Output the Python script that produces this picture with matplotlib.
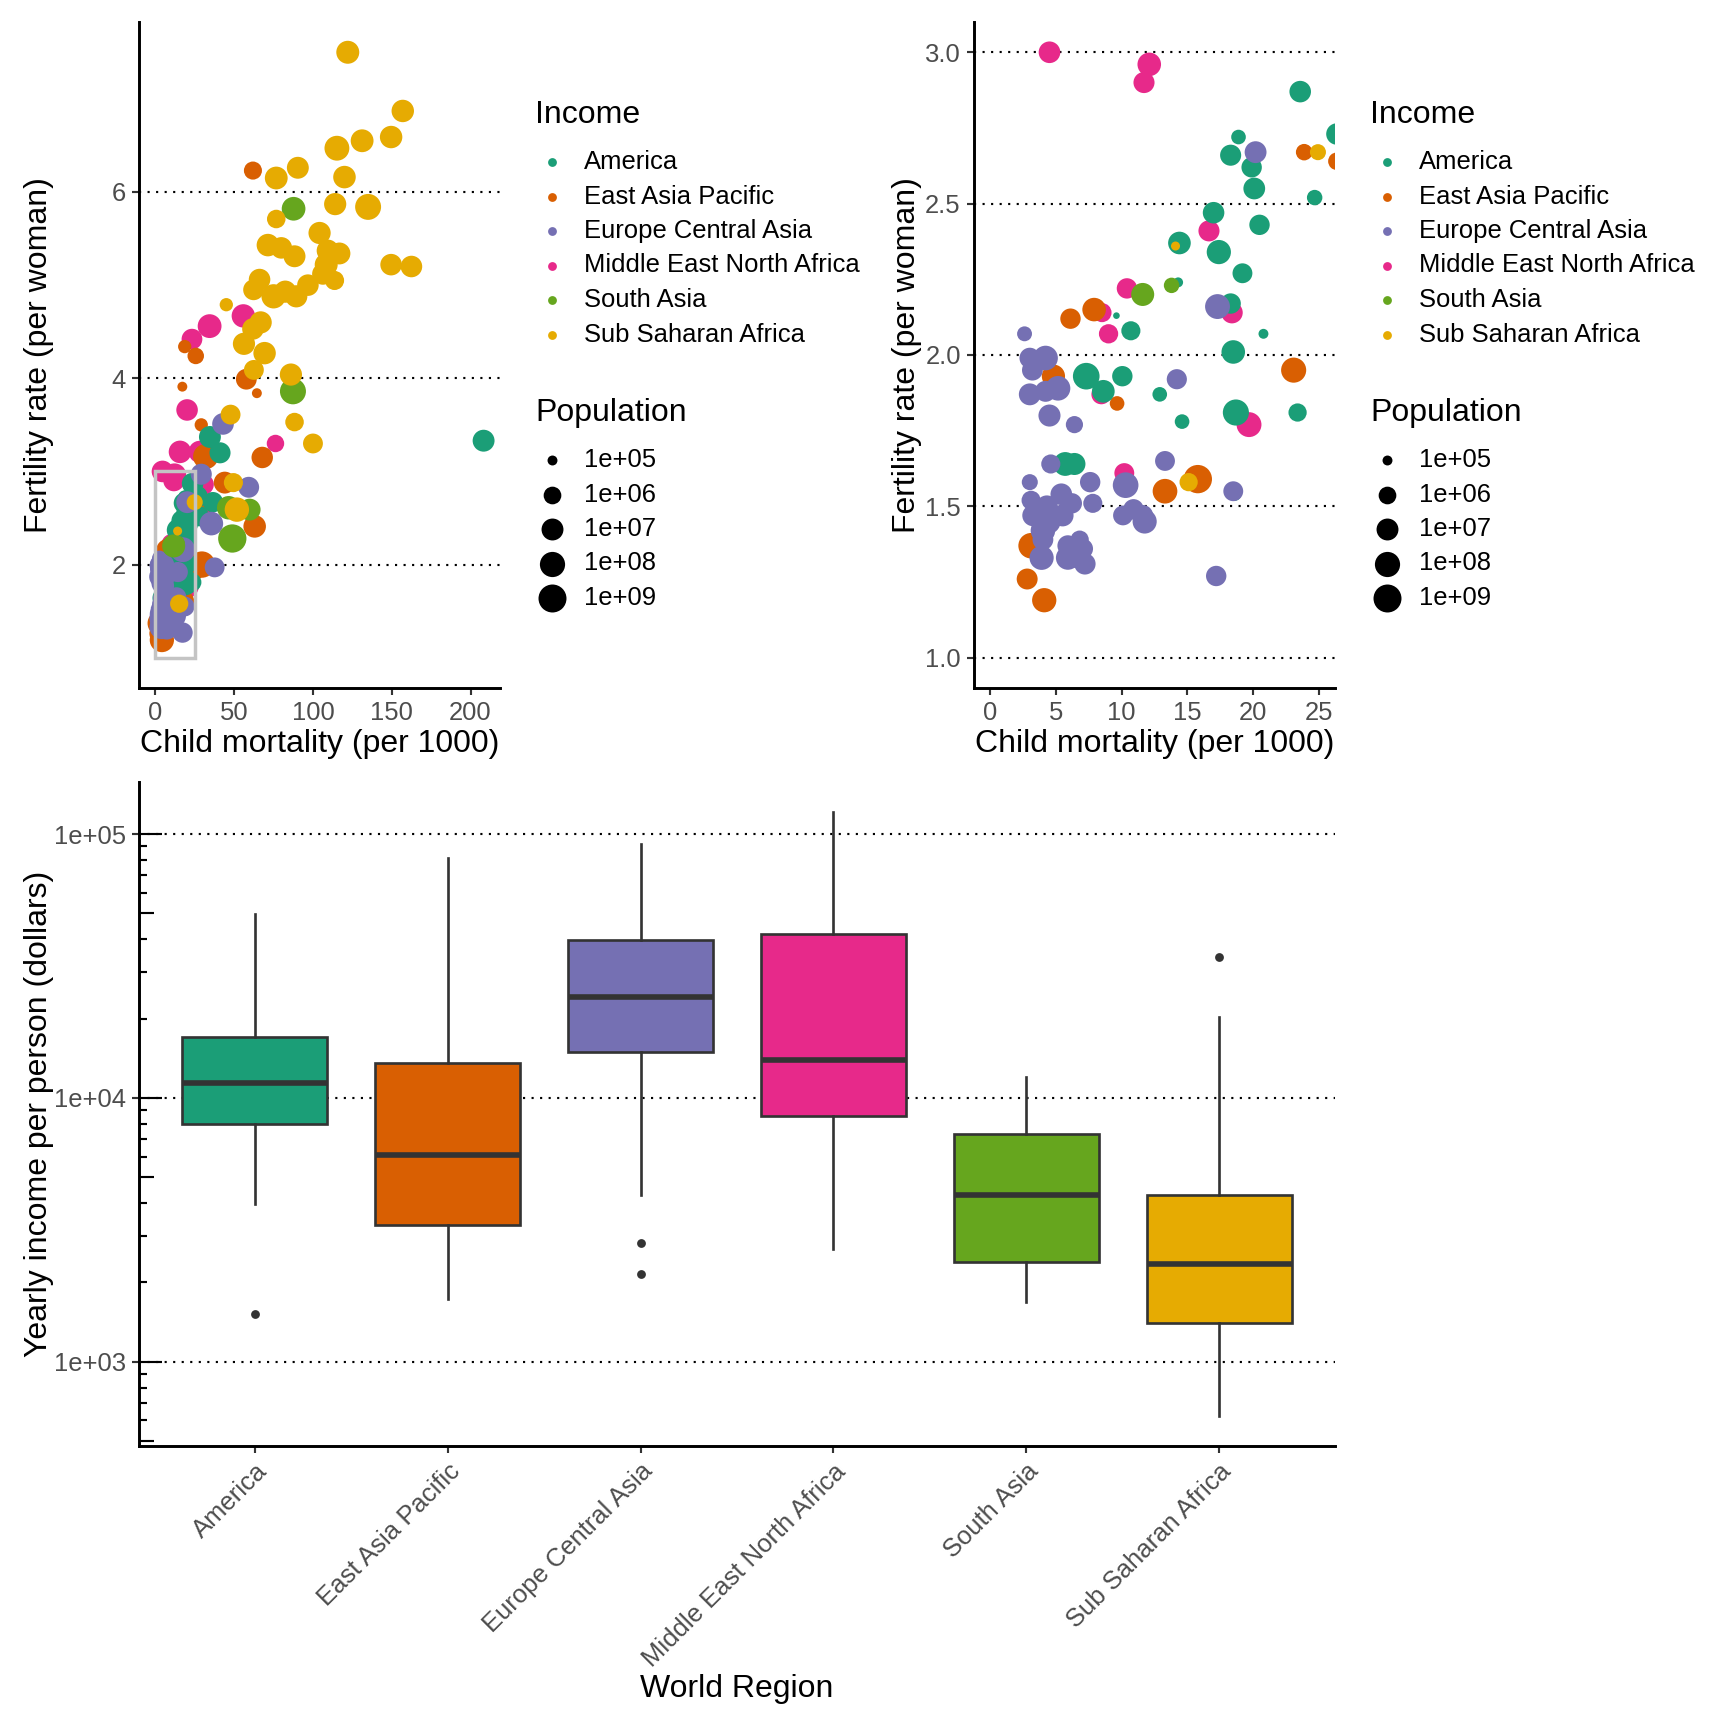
import numpy as np
import matplotlib
matplotlib.use("Agg")
import matplotlib.pyplot as plt
import matplotlib.transforms as mtransforms
from matplotlib.patches import Rectangle
from matplotlib.ticker import NullLocator

plt.rcParams['font.family'] = ['Liberation Sans', 'DejaVu Sans']

regions = ["America", "East Asia Pacific", "Europe Central Asia",
           "Middle East North Africa", "South Asia", "Sub Saharan Africa"]
region_colors = ["#1B9E77", "#D95F02", "#7570B3", "#E7298A", "#66A61E", "#E6AB02"]

# child mortality (per 1000), fertility (per woman), population (millions)
america_mort = [23.6, 18.9, 26.4, 18.3, 19.9, 20.1, 24.7, 17.0, 20.5, 14.4, 17.4, 19.2, 14.3, 18.3,
                9.6, 20.8, 10.7, 18.5, 7.3, 10.05, 8.6, 12.9, 14.6, 18.7, 23.4, 5.7, 6.4, 18.6,
                208.3, 34.6, 41.0, 36.5, 27.5]
america_fert = [2.87, 2.72, 2.73, 2.66, 2.62, 2.55, 2.52, 2.47, 2.43, 2.37, 2.34, 2.27, 2.24, 2.17,
                2.13, 2.07, 2.08, 2.01, 1.93, 1.93, 1.88, 1.87, 1.78, 1.81, 1.81, 1.64, 1.64, 1.54,
                3.33, 3.37, 3.20, 2.67, 2.52]
america_pop = [8, 0.3, 8, 6, 4, 9, 0.4, 8, 4, 16, 48, 3, 0.1, 4,
               0.08, 0.1, 2, 30, 320, 4, 17, 0.3, 0.3, 205, 1.3, 36, 11, 0.2,
               10, 10, 6, 4, 4]

eap_mort = [23.9, 26.4, 7.9, 6.1, 23.1, 4.8, 9.65, 15.8, 13.3, 3.1, 2.8, 4.1,
            61.9, 18.6, 25.6, 57.7, 17.1, 64.4, 29.1, 31.9, 67.8, 44.0, 63.0, 29.5]
eap_fert = [2.67, 2.64, 2.15, 2.12, 1.95, 1.93, 1.84, 1.59, 1.55, 1.37, 1.26, 1.19,
            6.23, 4.34, 4.24, 3.99, 3.91, 3.84, 3.50, 3.16, 3.15, 2.88, 2.41, 2.00]
eap_pop = [0.6, 1, 30, 4, 93, 24, 0.3, 1380, 68, 127, 5.5, 50,
           1.2, 0.2, 0.6, 5, 0.1, 0.1, 0.2, 100, 7.5, 10, 15, 255]

eca_mort = [20.2, 17.3, 2.6, 3.0, 4.2, 3.2, 14.2, 3.0, 4.2, 5.15, 4.5, 6.4, 4.6, 13.3, 10.3,
            3.0, 7.6, 18.5, 3.1, 4.3, 5.4, 6.2, 5.5, 3.25, 4.4, 4.0, 7.8, 10.1, 10.9, 11.6,
            11.75, 4.0, 3.9, 5.9, 6.8, 7.05, 5.9, 7.2, 6.55, 17.2,
            42.9, 29.1, 59.2, 35.5, 37.6]
eca_fert = [2.67, 2.16, 2.07, 1.99, 1.99, 1.95, 1.92, 1.87, 1.88, 1.89, 1.80, 1.77, 1.64, 1.65, 1.57,
            1.58, 1.58, 1.55, 1.52, 1.50, 1.54, 1.51, 1.47, 1.47, 1.45, 1.42, 1.51, 1.47, 1.49, 1.47,
            1.45, 1.39, 1.33, 1.37, 1.39, 1.36, 1.33, 1.31, 1.33, 1.27,
            3.51, 2.97, 2.83, 2.44, 1.97]
eca_pop = [9.7, 78, 0.33, 4.6, 66, 5.2, 3.5, 9.8, 5.6, 65, 11, 0.8, 2, 3, 144,
           0.5, 4, 3, 2, 10, 8.5, 4, 10, 8, 81, 60, 2, 2.9, 4.4, 5.4,
           45, 5, 46, 5.4, 1.3, 3.5, 38, 7, 4.2, 4,
           8.5, 6, 5.4, 31, 3]

mena_mort = [4.5, 12.1, 11.7, 16.65, 10.4, 8.5, 18.4, 9.0, 8.45, 19.7, 10.2,
             55.8, 34.4, 23.2, 20.1, 76.2, 15.6, 28.1, 30.5, 32.5]
mena_fert = [3.00, 2.96, 2.90, 2.41, 2.22, 2.14, 2.14, 2.07, 1.87, 1.77, 1.61,
             4.67, 4.56, 4.42, 3.66, 3.30, 3.21, 3.21, 2.86, 2.62]
mena_pop = [8.4, 30, 6, 6, 4, 2, 8, 2.2, 3, 79, 3,
            26, 36, 5, 8, 0.9, 15, 12, 5, 2]

sa_mort = [13.8, 11.6, 87.7, 87.3, 46.5, 59.8, 48.8]
sa_fert = [2.23, 2.20, 5.82, 3.86, 2.61, 2.59, 2.28]
sa_pop = [0.4, 21, 33, 189, 28, 10, 1310]

ssa_mort = [122.1, 157.0, 131.2, 149.6, 115.2, 76.7, 90.4, 120.0, 114.1, 135.0, 76.7, 104.2,
            71.4, 79.9, 88.3, 109.4, 116.8, 108.4, 106.3, 113.7, 149.6, 162.5, 66.1, 62.3,
            75.0, 82.4, 89.4, 96.8, 45.0, 66.8, 61.9, 56.2, 69.3, 62.5, 86.0, 47.7, 88.3,
            100.0, 49.5, 51.7, 14.1, 24.95, 15.1]
ssa_fert = [7.50, 6.87, 6.55, 6.59, 6.47, 6.15, 6.26, 6.16, 5.87, 5.84, 5.71, 5.56,
            5.43, 5.40, 5.31, 5.37, 5.34, 5.22, 5.12, 5.05, 5.22, 5.20, 5.06, 4.95,
            4.88, 4.93, 4.88, 5.00, 4.79, 4.60, 4.53, 4.37, 4.27, 4.09, 4.04, 3.61, 3.53,
            3.30, 2.88, 2.59, 2.36, 2.67, 1.58]
ssa_pop = [20, 14, 18, 14, 77, 18, 10, 15, 12, 180, 1.5, 12,
           15, 8, 10, 12, 10, 20, 8, 2, 8, 8, 8, 5,
           50, 12, 12, 8, 0.2, 12, 8, 12, 14, 3, 12, 3, 1.5,
           3, 2, 55, 0.09, 0.5, 1.3]

# yearly income per person (dollars), boxplot statistics per region
income_low = [3980, 1730, 4300, 2680, 1690, 625]
income_q1 = [8000, 3290, 15000, 8580, 2390, 1410]
income_median = [11400, 6070, 24200, 13900, 4300, 2350]
income_q3 = [17000, 13600, 39800, 41800, 7290, 4300]
income_high = [49600, 81000, 91700, 121000, 12000, 20300]
income_outliers = [[1520], [], [2820, 2150], [], [], [34200]]

pop_breaks = [0.1, 1, 10, 100, 1000]
pop_break_labels = ["1e+05", "1e+06", "1e+07", "1e+08", "1e+09"]

DPI = 192
W = H = 1728

series = {
    "America": (america_mort, america_fert, america_pop),
    "East Asia Pacific": (eap_mort, eap_fert, eap_pop),
    "Europe Central Asia": (eca_mort, eca_fert, eca_pop),
    "Middle East North Africa": (mena_mort, mena_fert, mena_pop),
    "South Asia": (sa_mort, sa_fert, sa_pop),
    "Sub Saharan Africa": (ssa_mort, ssa_fert, ssa_pop),
}
draw_order = ["Middle East North Africa", "East Asia Pacific", "America",
              "Europe Central Asia", "South Asia", "Sub Saharan Africa"]

all_pop = np.concatenate([np.array(v[2]) for v in series.values()])
lp_min, lp_max = np.log10(all_pop.min()), np.log10(all_pop.max())


def marker_area(pop):
    # ggplot area scale on log10 population, range 1..6
    t = (np.log10(np.asarray(pop, dtype=float)) - lp_min) / (lp_max - lp_min)
    size = 1 + 5 * np.sqrt(np.clip(t, 0, 1))
    d_px = 4.34 * size + 2.3
    return (d_px * 72 / DPI) ** 2


fig = plt.figure(figsize=(9, 9), dpi=DPI)


def px_axes(x0, y0, x1, y1):
    return fig.add_axes([x0 / W, 1 - y1 / H, (x1 - x0) / W, (y1 - y0) / H])


def style(ax):
    for s in ['top', 'right']:
        ax.spines[s].set_visible(False)
    for s in ['left', 'bottom']:
        ax.spines[s].set_linewidth(1.1)
        ax.spines[s].set_color('black')
    ax.tick_params(length=2.75, width=0.8, color='#333333', labelsize=9.6,
                   labelcolor='#4D4D4D', pad=2.2)
    ax.yaxis.grid(True, linestyle=(0, (1, 3)), color='black', linewidth=0.8)
    ax.set_axisbelow(True)


ax1 = px_axes(139, 22, 500, 688)
ax2 = px_axes(974, 22, 1335, 688)
ax3 = px_axes(139, 782, 1335, 1446)

for ax in (ax1, ax2):
    style(ax)
    for name in draw_order:
        m, f, p = series[name]
        ax.scatter(m, f, s=marker_area(p), color=region_colors[regions.index(name)],
                   linewidths=0, zorder=2)
    ax.set_xlabel('Child mortality (per 1000)', fontsize=12)
    ax.set_ylabel('Fertility rate (per woman)', fontsize=12)

# full view: limits trained on data and the zoom rectangle
all_mort = np.concatenate([np.array(v[0]) for v in series.values()])
all_fert = np.concatenate([np.array(v[1]) for v in series.values()])
x_lo, x_hi = min(0, all_mort.min()), max(25, all_mort.max())
y_lo, y_hi = min(1, all_fert.min()), max(3, all_fert.max())
ax1.set_xlim(x_lo - 0.05 * (x_hi - x_lo), x_hi + 0.05 * (x_hi - x_lo))
ax1.set_ylim(y_lo - 0.05 * (y_hi - y_lo), y_hi + 0.05 * (y_hi - y_lo))
ax1.set_xticks([0, 50, 100, 150, 200])
ax1.set_yticks([2, 4, 6])
ax1.add_patch(Rectangle((0, 1), 25, 2, fill=False, edgecolor='#C4C4C4', linewidth=1.3, zorder=5))

# zoomed view
ax2.set_xlim(-1.25, 26.25)
ax2.set_ylim(0.9, 3.1)
ax2.set_xticks([0, 5, 10, 15, 20, 25])
ax2.set_yticks([1.0, 1.5, 2.0, 2.5, 3.0])
ax2.set_yticklabels(['1.0', '1.5', '2.0', '2.5', '3.0'])

ax1.xaxis.set_label_coords(0.5, -0.061)
ax2.xaxis.set_label_coords(0.5, -0.061)
ax1.yaxis.set_label_coords((54 - 139) / 361, 0.5)
ax2.yaxis.set_label_coords((922 - 974) / 361, 0.5)

# boxplot of income
style(ax3)
stats = []
for i in range(len(regions)):
    stats.append(dict(med=income_median[i], q1=income_q1[i], q3=income_q3[i],
                      whislo=income_low[i], whishi=income_high[i],
                      fliers=income_outliers[i]))
bp = ax3.bxp(stats, positions=range(1, 7), widths=0.75, patch_artist=True, showcaps=False,
             boxprops=dict(edgecolor='#333333', linewidth=1.0),
             whiskerprops=dict(color='#333333', linewidth=1.0),
             medianprops=dict(color='#333333', linewidth=2.1),
             flierprops=dict(marker='o', markerfacecolor='#333333', markeredgecolor='none',
                             markersize=3.3))
for patch, c in zip(bp['boxes'], region_colors):
    patch.set_facecolor(c)
ax3.set_yscale('log')
lo = np.log10(min(income_low + [v for o in income_outliers for v in o]))
hi = np.log10(max(income_high + [v for o in income_outliers for v in o]))
ax3.set_ylim(10 ** (lo - 0.05 * (hi - lo)), 10 ** (hi + 0.05 * (hi - lo)))
ax3.set_xlim(0.4, 6.6)
ax3.set_yticks([1e3, 1e4, 1e5])
ax3.set_yticklabels(['1e+03', '1e+04', '1e+05'])
ax3.yaxis.set_minor_locator(NullLocator())
ax3.set_xticks(range(1, 7))
ax3.set_xticklabels(regions, rotation=45, ha='right', va='top', rotation_mode='anchor')
ax3.set_xlabel('World Region', fontsize=12)
ax3.set_ylabel('Yearly income per person (dollars)', fontsize=12)
ax3.xaxis.set_label_coords(0.5, -(1674 - 1446) / 664)
ax3.yaxis.set_label_coords((54 - 139) / 1196, 0.5)

# log ticks on the left side
trans = mtransforms.blended_transform_factory(ax3.transAxes, ax3.transData)
ylo, yhi = ax3.get_ylim()
for dec in [100, 1000, 10000, 100000]:
    for k in range(1, 10):
        v = k * dec
        if ylo <= v <= yhi:
            L = 22.7 if k == 1 else (15.1 if k == 5 else 7.6)
            ax3.plot([0, L / 1196], [v, v], transform=trans, color='black', lw=0.8,
                     solid_capstyle='butt', clip_on=False, zorder=3)

# legends
lax = fig.add_axes([0, 0, 1, 1])
lax.set_xlim(0, W)
lax.set_ylim(H, 0)
lax.axis('off')
for off in [0, 835]:
    lax.text(535 + off, 115, 'Income', fontsize=12, va='center', ha='left')
    for i, (r, c) in enumerate(zip(regions, region_colors)):
        y = 162 + i * 34.5
        lax.scatter([552 + off], [y], s=(8.8 * 72 / DPI) ** 2, color=c, linewidths=0)
        lax.text(584 + off, y, r, fontsize=9.6, va='center', ha='left')
    lax.text(535 + off, 413, 'Population', fontsize=12, va='center', ha='left')
    for i, (b, lab) in enumerate(zip(pop_breaks, pop_break_labels)):
        y = 460 + i * 34.5
        lax.scatter([552 + off], [y], s=marker_area(b), color='black', linewidths=0)
        lax.text(584 + off, y, lab, fontsize=9.6, va='center', ha='left')

fig.savefig('out.png', dpi=DPI)
